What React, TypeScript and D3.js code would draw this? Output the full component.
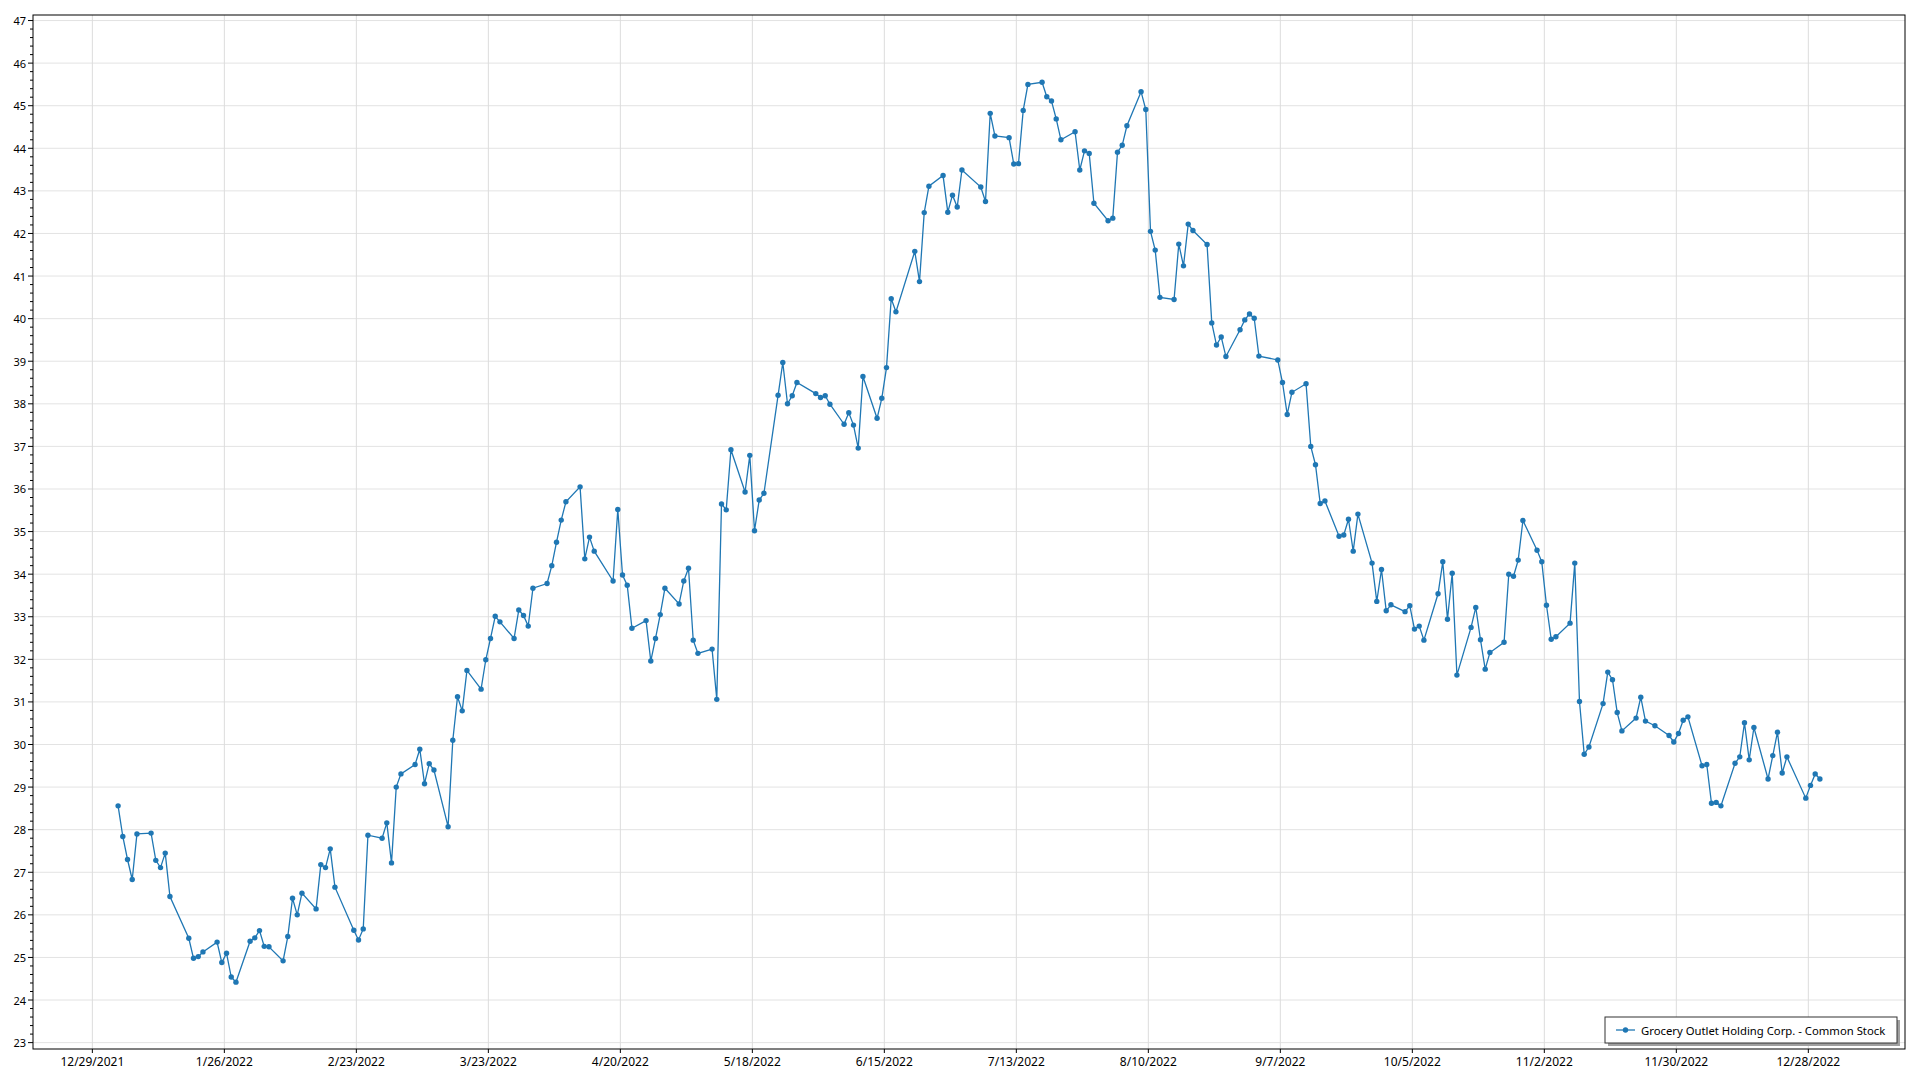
import { useEffect } from "react"
import * as d3 from "d3"

const seriesName = "Grocery Outlet Holding Corp. - Common Stock"

// NYSE closures in 2022 (weekdays without a close)
const holidays = [
  "2022-01-17", "2022-02-21", "2022-04-15", "2022-05-30", "2022-06-20",
  "2022-07-04", "2022-09-05", "2022-11-24", "2022-12-26",
]

// closing prices, one per trading day, by month
const jan = [28.56, 27.84, 27.3, 26.83, 27.9, 27.92, 27.28, 27.11, 27.45, 26.43, 25.45, 24.98, 25.02, 25.13, 25.36, 24.88, 25.1, 24.54, 24.42, 25.38]
const feb = [25.46, 25.63, 25.26, 25.25, 24.92, 25.49, 26.39, 26.0, 26.51, 26.14, 27.18, 27.11, 27.55, 26.65, 25.64, 25.41, 25.67, 27.87, 27.8]
const mar = [28.16, 27.22, 29.0, 29.31, 29.53, 29.89, 29.08, 29.55, 29.4, 28.07, 30.1, 31.12, 30.79, 31.74, 31.3, 31.99, 32.49, 33.01, 32.88, 32.49, 33.16, 33.03, 32.78]
const apr = [33.67, 33.78, 34.2, 34.75, 35.27, 35.7, 36.05, 34.36, 34.87, 34.54, 33.84, 35.52, 33.98, 33.74, 32.73, 32.91, 31.96, 32.49, 33.05, 33.67]
const may = [33.3, 33.84, 34.14, 32.45, 32.14, 32.24, 31.06, 35.65, 35.51, 36.92, 35.93, 36.79, 35.02, 35.74, 35.9, 38.2, 38.97, 38.0, 38.19, 38.5, 38.24]
const jun = [38.15, 38.19, 37.99, 37.52, 37.79, 37.5, 36.96, 38.64, 37.66, 38.13, 38.85, 40.47, 40.16, 41.58, 40.87, 42.49, 43.11, 43.36, 42.5, 42.9, 42.62]
const jul = [43.49, 43.09, 42.75, 44.82, 44.29, 44.25, 43.63, 43.64, 44.89, 45.5, 45.55, 45.21, 45.11, 44.69, 44.2, 44.39, 43.49, 43.94, 43.88, 42.71]
const aug = [42.3, 42.36, 43.91, 44.07, 44.53, 45.33, 44.91, 42.05, 41.61, 40.5, 40.45, 41.75, 41.24, 42.22, 42.07, 41.74, 39.9, 39.38, 39.57, 39.11, 39.74, 39.97, 40.11]
const sep = [40.01, 39.12, 39.03, 38.5, 37.75, 38.27, 38.47, 37.0, 36.57, 35.66, 35.72, 34.89, 34.92, 35.29, 34.54, 35.41, 34.26, 33.36, 34.11, 33.14, 33.28]
const oct = [33.12, 33.26, 32.71, 32.78, 32.45, 33.54, 34.29, 32.94, 34.02, 31.63, 32.75, 33.22, 32.46, 31.77, 32.16, 32.4, 34.0, 33.95, 34.33, 35.26, 34.56]
const nov = [34.29, 33.27, 32.47, 32.53, 32.85, 34.26, 31.01, 29.77, 29.94, 30.96, 31.7, 31.52, 30.75, 30.32, 30.62, 31.11, 30.55, 30.44, 30.21, 30.06, 30.26]
const dec = [30.57, 30.65, 29.5, 29.53, 28.62, 28.64, 28.56, 29.56, 29.71, 30.51, 29.64, 30.4, 29.19, 29.74, 30.29, 29.33, 29.71, 28.74, 29.04, 29.31, 29.19]

const months = [jan, feb, mar, apr, may, jun, jul, aug, sep, oct, nov, dec]

const xTickLabels = [
  "12/29/2021", "1/26/2022", "2/23/2022", "3/23/2022", "4/20/2022", "5/18/2022", "6/15/2022",
  "7/13/2022", "8/10/2022", "9/7/2022", "10/5/2022", "11/2/2022", "11/30/2022", "12/28/2022",
]

const yTicks = d3.range(23, 48)

interface Point {
  date: Date
  value: number
}

function buildPoints(): Point[] {
  const fmt = d3.timeFormat("%Y-%m-%d")
  const days = d3.timeDay
    .range(new Date(2022, 0, 1), new Date(2023, 0, 1))
    .filter((d) => d.getDay() > 0 && d.getDay() < 6 && !holidays.includes(fmt(d)))
  const points: Point[] = []
  months.forEach((vals, m) => {
    const mDays = days.filter((d) => d.getMonth() === m)
    vals.forEach((v, i) => {
      if (mDays[i]) points.push({ date: d3.timeHour.offset(mDays[i], 11), value: v })
    })
  })
  return points
}

export default function App() {
  useEffect(() => {
    document.body.style.margin = "0"
  }, [])

  const width = 1920
  const height = 1080
  const margin = { left: 33, right: 15, top: 15, bottom: 31 }
  const plotW = width - margin.left - margin.right
  const plotH = height - margin.top - margin.bottom

  const data = buildPoints()
  const [d0, d1] = d3.extent(data, (d) => d.date) as [Date, Date]
  const pad = (d1.getTime() - d0.getTime()) * 0.05

  const x = d3
    .scaleTime()
    .domain([new Date(d0.getTime() - pad), new Date(d1.getTime() + pad)])
    .range([margin.left, margin.left + plotW])

  const y = d3
    .scaleLinear()
    .domain([22.85, 47.13])
    .range([margin.top + plotH, margin.top])

  const parse = d3.timeParse("%m/%d/%Y")
  const xTicks = xTickLabels.map((s) => ({ label: s, date: parse(s) as Date }))
  const minorTicks = d3.range(23, 47.01, 0.2).filter((v) => Math.abs(v - Math.round(v)) > 0.01)

  const line = d3
    .line<Point>()
    .x((d) => x(d.date))
    .y((d) => y(d.value))

  const color = "#1f77b4"
  const font = "'Segoe UI', 'Noto Sans', sans-serif"
  const bottom = margin.top + plotH
  const right = margin.left + plotW

  const lg = { x: 1605, y: 1017, w: 292, h: 26 }

  return (
    <svg
      width={width}
      height={height}
      style={{ position: "absolute", left: 0, top: 0, background: "#fff" }}
      fontFamily={font}
    >
      {/* grid */}
      {yTicks.map((t) => (
        <line key={"gy" + t} x1={margin.left} x2={right} y1={y(t)} y2={y(t)} stroke="#e3e3e3" strokeWidth={1} />
      ))}
      {xTicks.map((t) => (
        <line key={"gx" + t.label} x1={x(t.date)} x2={x(t.date)} y1={margin.top} y2={bottom} stroke="#dcdcdc" strokeWidth={1} />
      ))}

      {/* frame */}
      <rect x={margin.left} y={margin.top} width={plotW} height={plotH} fill="none" stroke="#000" strokeWidth={1} />

      {/* y axis */}
      {yTicks.map((t) => (
        <g key={"ty" + t}>
          <line x1={margin.left - 5} x2={margin.left} y1={y(t)} y2={y(t)} stroke="#000" />
          <text x={margin.left - 7} y={y(t)} textAnchor="end" dominantBaseline="central" fontSize={11} fill="#000">
            {t}
          </text>
        </g>
      ))}
      {minorTicks.map((t) => (
        <line key={"my" + t.toFixed(1)} x1={margin.left - 3} x2={margin.left} y1={y(t)} y2={y(t)} stroke="#000" />
      ))}

      {/* x axis */}
      {xTicks.map((t) => (
        <g key={"tx" + t.label}>
          <line x1={x(t.date)} x2={x(t.date)} y1={bottom} y2={bottom + 4} stroke="#000" />
          <text x={x(t.date)} y={bottom + 17} textAnchor="middle" fontSize={12} fill="#000">
            {t.label}
          </text>
        </g>
      ))}

      {/* series */}
      <path d={line(data) ?? ""} fill="none" stroke={color} strokeWidth={1.3} />
      {data.map((d, i) => (
        <circle key={i} cx={x(d.date)} cy={y(d.value)} r={2.7} fill={color} />
      ))}

      {/* legend */}
      <rect x={lg.x + 3} y={lg.y + 3} width={lg.w} height={lg.h} fill="#a0a0a0" />
      <rect x={lg.x} y={lg.y} width={lg.w} height={lg.h} fill="#fff" stroke="#333" strokeWidth={1} />
      <line x1={lg.x + 11} x2={lg.x + 30} y1={lg.y + lg.h / 2} y2={lg.y + lg.h / 2} stroke={color} strokeWidth={1.3} />
      <circle cx={lg.x + 20.5} cy={lg.y + lg.h / 2} r={2.7} fill={color} />
      <text x={lg.x + 36} y={lg.y + lg.h / 2} dominantBaseline="central" fontSize={11.3} fill="#000">
        {seriesName}
      </text>
    </svg>
  )
}
